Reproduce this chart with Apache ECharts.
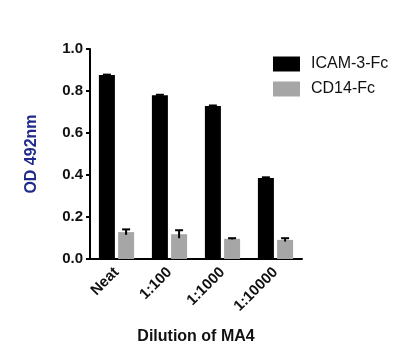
<!DOCTYPE html>
<html><head><meta charset="utf-8">
<script src="https://cdn.jsdelivr.net/npm/echarts@6/dist/echarts.min.js"></script>
<style>html,body{margin:0;padding:0;background:#fff}#c{width:400px;height:356px}</style>
</head><body><div id="c"></div>
<script>
const categories = ['Neat', '1:100', '1:1000', '1:10000'];
const icamValues = [0.876, 0.780, 0.729, 0.386];
const icamErrors = [0.002, 0.002, 0.002, 0.003];
const cd14Values = [0.128, 0.118, 0.096, 0.091];
const cd14Errors = [0.013, 0.019, 0.003, 0.008];
const yTicks = [0, 0.2, 0.4, 0.6, 0.8, 1.0];

const FONT = '"Liberation Sans", Arial, sans-serif';
const chart = echarts.init(document.getElementById('c'), null, {renderer: 'canvas'});

function errSeries(values, errors, offset) {
  return {
    type: 'custom',
    silent: true,
    z: 5,
    data: values.map((v, i) => [i, v, errors[i]]),
    renderItem: function (params, api) {
      const i = api.value(0), v = api.value(1), e = api.value(2);
      const top = api.coord([i, v + e]);
      const bot = api.coord([i, v - e]);
      const x = top[0] + offset;
      return {
        type: 'group',
        children: [
          {type: 'line', shape: {x1: x, y1: bot[1], x2: x, y2: top[1]}, style: {stroke: '#000', lineWidth: 2}},
          {type: 'line', shape: {x1: x - 4, y1: top[1], x2: x + 4, y2: top[1]}, style: {stroke: '#000', lineWidth: 2}}
        ]
      };
    }
  };
}

chart.setOption({
  animation: false,
  textStyle: {fontFamily: FONT},
  grid: {left: 90, right: 98, top: 49, bottom: 97, containLabel: false},
  legend: {
    orient: 'vertical', left: 268, top: 51,
    itemWidth: 27, itemHeight: 15, itemGap: 9, icon: 'rect',
    textStyle: {fontSize: 16, color: '#111', fontFamily: FONT, padding: [0, 0, 0, 6]},
    data: ['ICAM-3-Fc', 'CD14-Fc']
  },
  xAxis: {
    type: 'category',
    data: categories,
    name: 'Dilution of MA4',
    nameLocation: 'middle',
    nameGap: 70,
    nameTextStyle: {fontSize: 16, fontWeight: 'bold', color: '#111', fontFamily: FONT},
    axisLine: {lineStyle: {color: '#000', width: 2}},
    axisTick: {alignWithLabel: true, length: 5, lineStyle: {color: '#000', width: 2}},
    axisLabel: {rotate: 45, fontSize: 15, fontWeight: 'bold', color: '#111', margin: 11, fontFamily: FONT}
  },
  yAxis: {
    type: 'value',
    min: 0, max: 1, interval: 0.2,
    name: 'OD 492nm',
    nameLocation: 'middle',
    nameRotate: 90,
    nameGap: 50,
    nameTextStyle: {fontSize: 16, fontWeight: 'bold', color: '#1f2a8a', fontFamily: FONT},
    axisLine: {show: true, lineStyle: {color: '#000', width: 2}},
    axisTick: {show: true, length: 4, lineStyle: {color: '#000', width: 2}},
    splitLine: {show: false},
    axisLabel: {fontSize: 15, fontWeight: 'bold', color: '#111', margin: 7, fontFamily: FONT,
      formatter: v => yTicks.includes(Math.round(v * 10) / 10) ? v.toFixed(1) : ''}
  },
  series: [
    {name: 'ICAM-3-Fc', type: 'bar', data: icamValues, barWidth: 16, barGap: '20%',
      itemStyle: {color: '#000'}},
    {name: 'CD14-Fc', type: 'bar', data: cd14Values, barWidth: 16, barGap: '20%',
      itemStyle: {color: '#a6a6a6'}},
    errSeries(icamValues, icamErrors, -9.6),
    errSeries(cd14Values, cd14Errors, 9.6)
  ]
});
</script></body></html>
